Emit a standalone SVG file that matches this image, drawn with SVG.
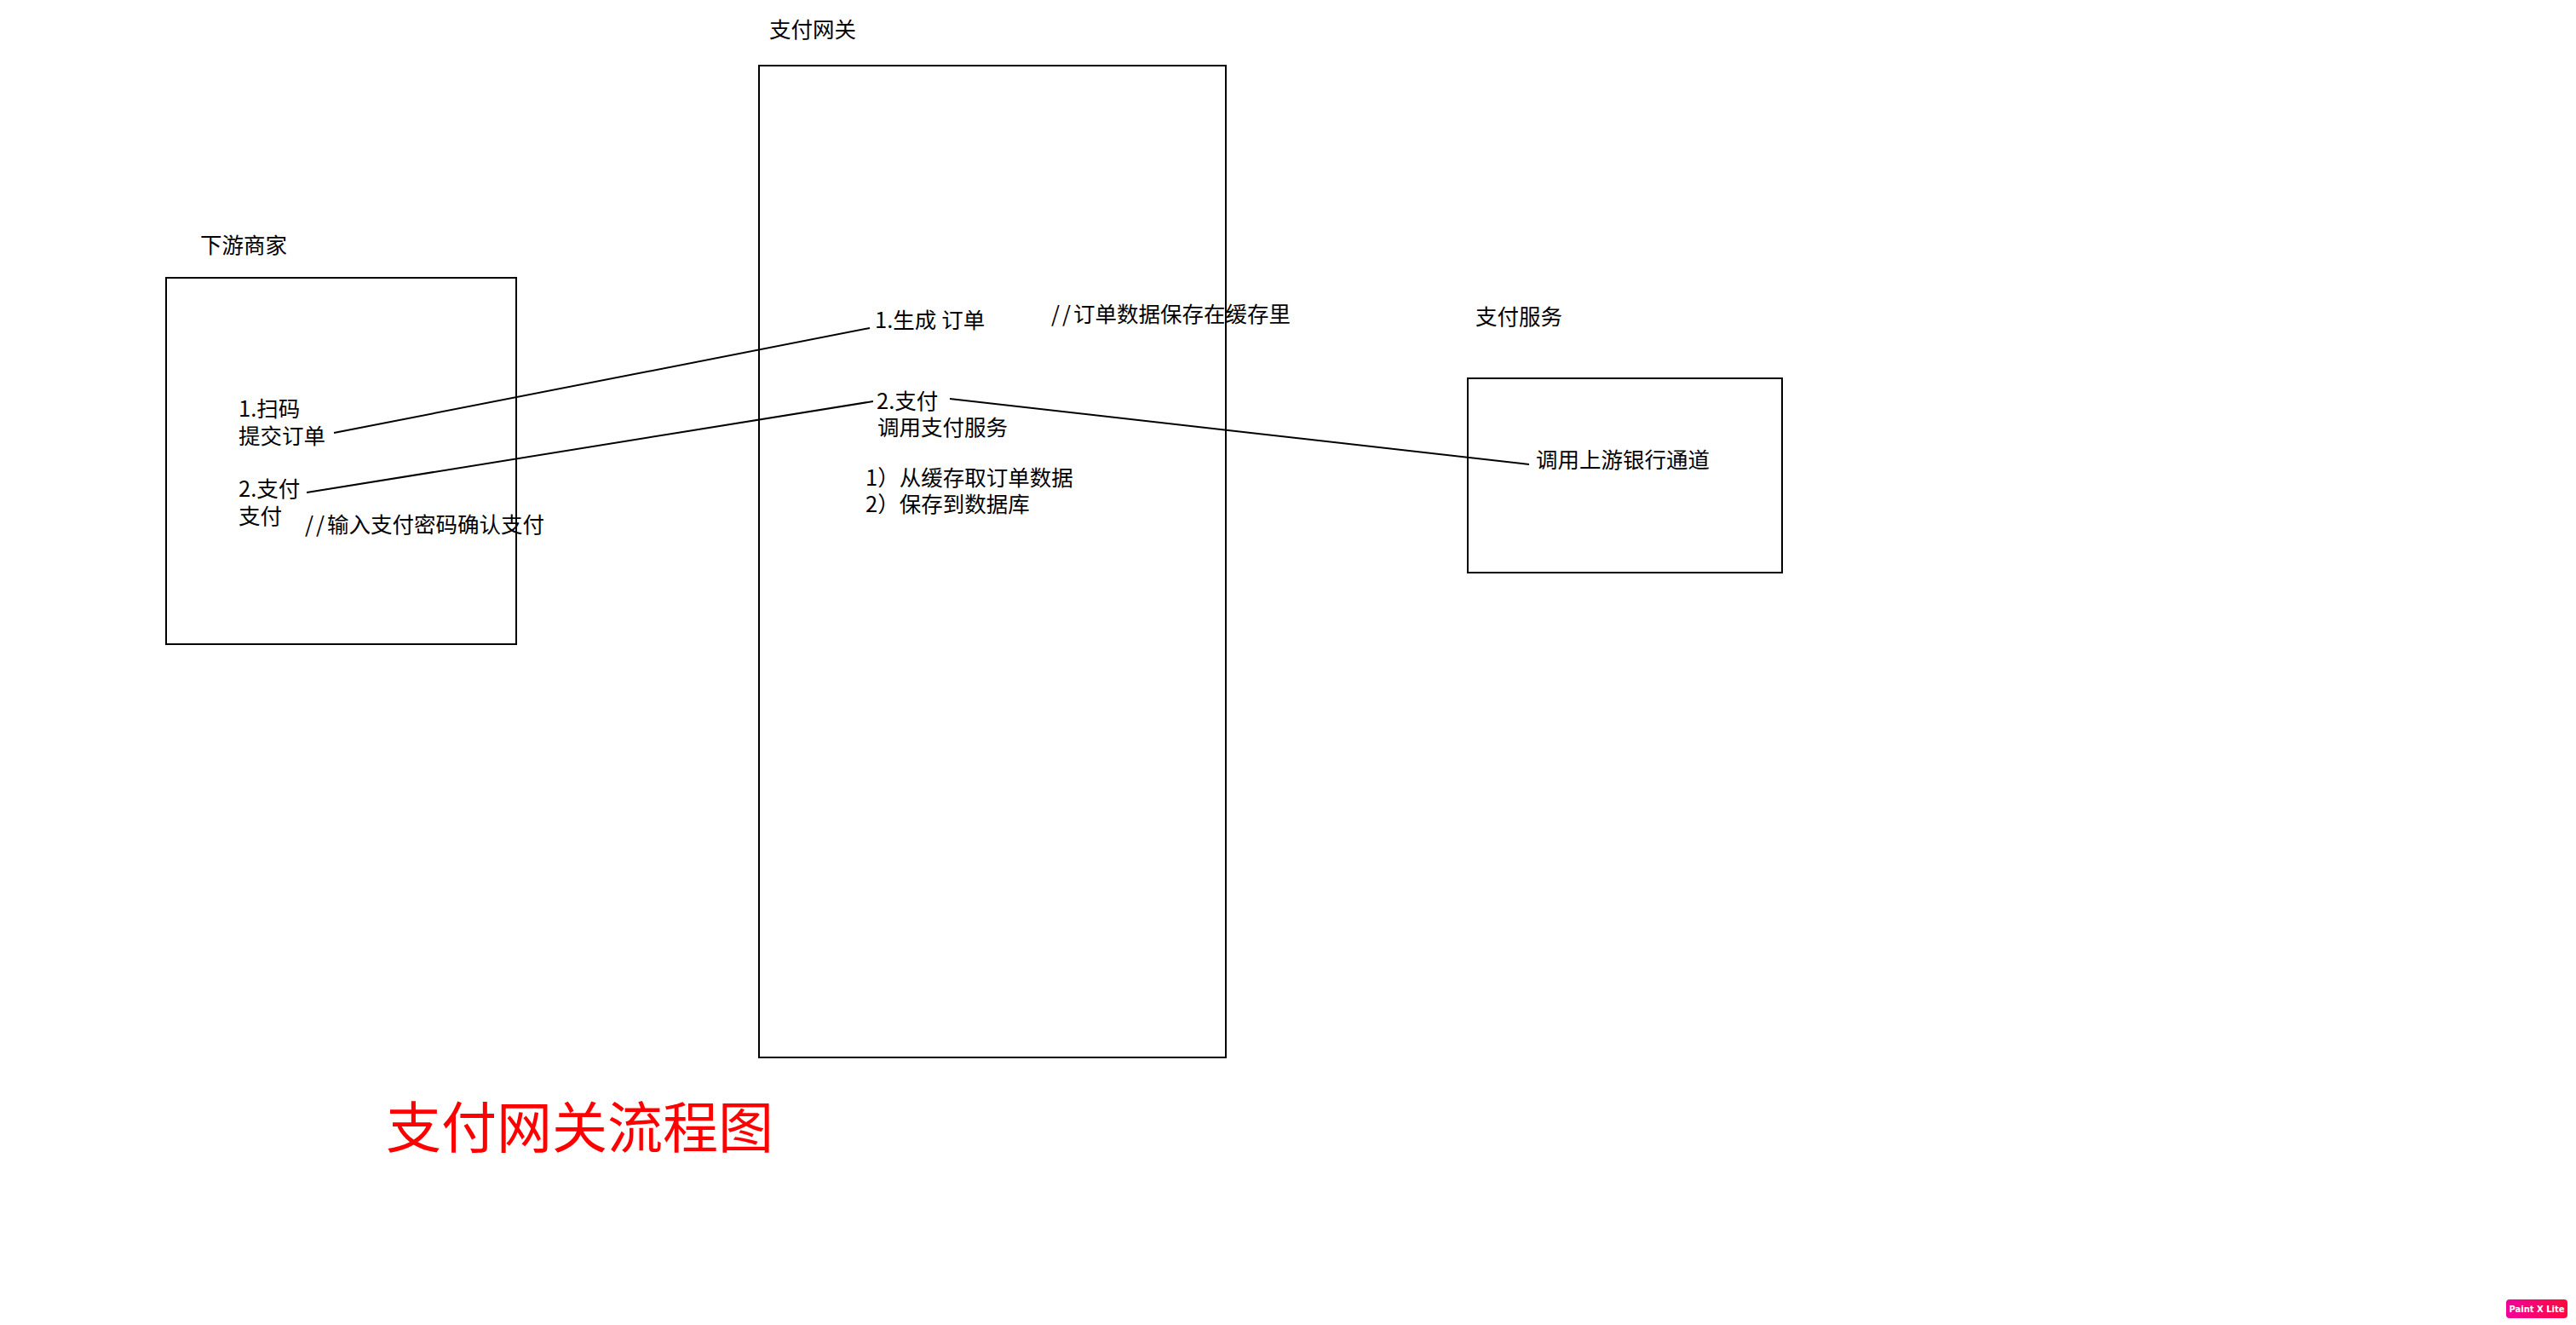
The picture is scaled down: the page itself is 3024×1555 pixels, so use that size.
<svg xmlns="http://www.w3.org/2000/svg" width="3024" height="1555" viewBox="0 0 3024 1555">
<style>
.box{fill:none;stroke:#000;stroke-width:2}
.t{font-family:"Noto Sans CJK SC","PingFang SC",sans-serif;font-size:25.5px;fill:#000}
.sl{letter-spacing:3px}
.ln{stroke:#000;stroke-width:2;fill:none}
.title{font-family:"Noto Sans CJK SC",sans-serif;font-size:65px;fill:#ff0000}
</style>
<defs>
<linearGradient id="badge" x1="0" x2="1" y1="0" y2="0"><stop offset="0" stop-color="#f2009c"/><stop offset="1" stop-color="#ff0a3c"/></linearGradient>
</defs>
<rect width="3024" height="1555" fill="#fff"/>
<g id="merchant">
<text class="t" x="235" y="297">下游商家</text>
<rect class="box" x="195" y="326" width="411" height="430"/>
<text class="t" x="280" y="489">1.扫码</text>
<text class="t" x="280" y="521">提交订单</text>
<text class="t" x="280" y="583">2.支付</text>
<text class="t" x="280" y="615">支付</text>
<text class="t" x="358" y="625"><tspan class="sl">//</tspan>输入支付密码确认支付</text>
</g>
<g id="gateway">
<text class="t" x="903" y="44">支付网关</text>
<rect class="box" x="891" y="77" width="548" height="1164"/>
<text class="t" x="1027" y="385">1.生成<tspan dx="6">订单</tspan></text>
<text class="t" x="1234" y="378"><tspan class="sl">//</tspan>订单数据保存在缓存里</text>
<text class="t" x="1029" y="480">2.支付</text>
<text class="t" x="1030" y="511">调用支付服务</text>
<text class="t" x="1016" y="570">1）从缓存取订单数据</text>
<text class="t" x="1016" y="601">2）保存到数据库</text>
</g>
<g id="payservice">
<text class="t" x="1732" y="381">支付服务</text>
<rect class="box" x="1723" y="444" width="369" height="228"/>
<text class="t" x="1803" y="549">调用上游银行通道</text>
</g>
<g id="connectors">
<line class="ln" x1="392" y1="508" x2="1021" y2="385"/>
<line class="ln" x1="360" y1="578" x2="1025" y2="471"/>
<line class="ln" x1="1115" y1="468" x2="1795" y2="545"/>
</g>
<g id="caption">
<text class="title" x="453" y="1347">支付网关流程图</text>
</g>
<g id="watermark">
<rect x="2942" y="1525" width="72" height="22" rx="4" fill="url(#badge)"/>
<text x="2978" y="1540" text-anchor="middle" font-family="DejaVu Sans, sans-serif" font-weight="bold" font-size="10" fill="#fff">Paint X Lite</text>
</g>
</svg>
